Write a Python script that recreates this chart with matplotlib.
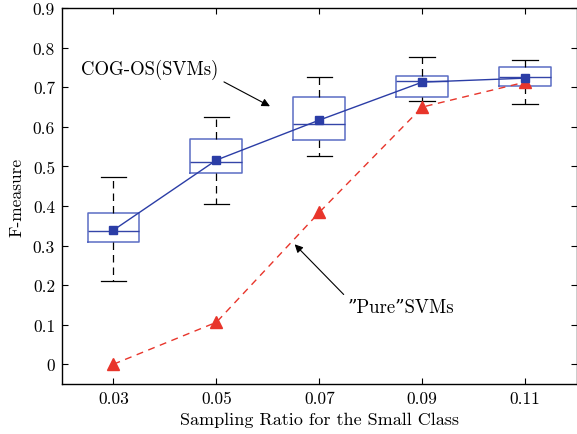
import matplotlib
matplotlib.use("Agg")
import matplotlib.pyplot as plt

plt.rcParams['font.family'] = ['cmr10', 'DejaVu Serif']
plt.rcParams['axes.formatter.use_mathtext'] = True
plt.rcParams['mathtext.fontset'] = 'cm'

ratios = [0.03, 0.05, 0.07, 0.09, 0.11]
whislo = [0.210, 0.404, 0.526, 0.666, 0.657]
q1 = [0.308, 0.483, 0.566, 0.675, 0.703]
med = [0.336, 0.511, 0.607, 0.715, 0.725]
q3 = [0.382, 0.569, 0.675, 0.729, 0.751]
whishi = [0.473, 0.624, 0.725, 0.776, 0.770]
mean_cog = [0.339, 0.516, 0.617, 0.713, 0.723]
pure_svm = [0.0, 0.106, 0.384, 0.650, 0.713]
yticks = [0, 0.1, 0.2, 0.3, 0.4, 0.5, 0.6, 0.7, 0.8, 0.9]

fig = plt.figure(figsize=(5.77, 4.35), dpi=100)
ax = fig.add_axes([0.1075, 0.115, 0.892, 0.864])

stats = []
for i in range(len(ratios)):
    stats.append(dict(whislo=whislo[i], q1=q1[i], med=med[i], q3=q3[i],
                      whishi=whishi[i], fliers=[], label=f"{ratios[i]:.2f}"))
ax.bxp(stats, positions=ratios, widths=0.0101, showfliers=False,
       boxprops=dict(color='#5a6cc4', linewidth=1.1),
       medianprops=dict(color='#3445a8', linewidth=1.0),
       whiskerprops=dict(color='black', linestyle=(0, (6, 4)), linewidth=0.9),
       capprops=dict(color='black', linewidth=0.9), capwidths=0.005)

ax.plot(ratios, mean_cog, '-', color='#2b3da6', linewidth=1.0, marker='s',
        markersize=6, markerfacecolor='#2b3da6', markeredgecolor='#2b3da6', zorder=5)
ax.plot(ratios, pure_svm, linestyle=(0, (5, 4)), color='#e8352b', linewidth=1.0,
        marker='^', markersize=8, markerfacecolor='#e8352b', markeredgecolor='#e8352b', zorder=4)

ax.set_xlim(0.02, 0.12)
ax.set_ylim(-0.05, 0.9)
ax.set_xticks(ratios)
ax.set_xticklabels([f"{r:.2f}" for r in ratios])
ax.set_yticks(yticks)
ax.set_yticklabels(["0"] + [f"{t:.1f}" for t in yticks[1:]])
ax.tick_params(direction='in', top=True, right=True, labelsize=12.5, length=4, pad=5)
for s in ax.spines.values():
    s.set_linewidth(1.0)

ax.set_xlabel('Sampling Ratio for the Small Class', fontsize=13, labelpad=4)
ax.set_ylabel('F-measure', fontsize=12.5, labelpad=6)

ax.annotate('COG-OS(SVMs)', xy=(0.0604, 0.652), xytext=(0.0371, 0.746),
            fontsize=13.5, ha='center', va='center',
            arrowprops=dict(arrowstyle='-|>', color='black', lw=0.8, shrinkA=2, shrinkB=0,
                            mutation_scale=12, relpos=(1.0, 0.0)))
ax.annotate('\u201dPure\u201dSVMs', xy=(0.0652, 0.303), xytext=(0.0858, 0.144),
            fontsize=13.5, ha='center', va='center',
            arrowprops=dict(arrowstyle='-|>', color='black', lw=0.8, shrinkA=1, shrinkB=0,
                            mutation_scale=12, relpos=(0.0, 1.0)))

fig.savefig('out.png', dpi=100)
